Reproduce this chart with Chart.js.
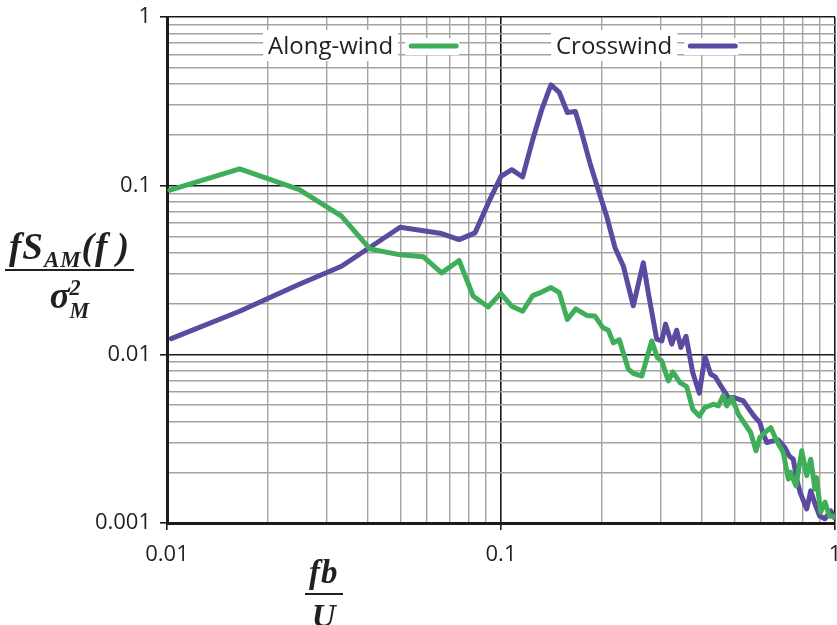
<!DOCTYPE html>
<html>
<head>
<meta charset="utf-8">
<script src="https://cdn.jsdelivr.net/npm/chart.js@4/dist/chart.umd.min.js"></script>
<style>
    html, body { margin: 0; padding: 0; background: #fff; }
    #wrap { position: relative; width: 837px; height: 625px; overflow: hidden; }
    canvas { position: absolute; left: 0; top: 0; }
    .frac {
        position: absolute;
        display: flex; flex-direction: column; align-items: center;
        font-family: "Liberation Serif", "DejaVu Serif", serif;
        font-weight: bold; font-style: italic; color: #231f20;
        line-height: 1;
    }
    .frac .num { padding: 0 4px 4px 4px; border-bottom: 2.5px solid #231f20; white-space: nowrap; letter-spacing: 1px; }
    .frac .den { padding-top: 5px; white-space: nowrap; }
    .frac sub { font-size: 0.62em; line-height: 0; }
    .frac .ss { display: inline-flex; flex-direction: column; vertical-align: middle; font-size: 0.6em; line-height: 1.05; }
</style>
</head>
<body>
<div id="wrap">
    <canvas id="spectrumChart" width="837" height="625"></canvas>
    <!-- axis titles as maths fractions -->
    <div class="frac" id="yTitle" style="left:5px; top:228px; font-size:37px;">
        <span class="num">fS<sub>AM</sub>(f&thinsp;)</span>
        <span class="den">σ<span class="ss"><span>2</span><span>M</span></span></span>
    </div>
    <div class="frac" id="xTitle" style="left:305px; top:556px; font-size:33px;">
        <span class="num">fb</span>
        <span class="den">U</span>
    </div>
</div>
<script>
// Along-wind spectrum
const alongX = [0.0102, 0.0165, 0.0249, 0.0333, 0.0405, 0.0499, 0.0585, 0.0664, 0.0749, 0.0826,
    0.0916, 0.0998, 0.1077, 0.1161, 0.1244, 0.1324, 0.1411, 0.1495, 0.158, 0.1674,
    0.1806, 0.191, 0.2017, 0.2096, 0.217, 0.226, 0.2406, 0.249, 0.264, 0.2827,
    0.294, 0.303, 0.317, 0.327, 0.3435, 0.3597, 0.375, 0.3925, 0.408, 0.4323,
    0.448, 0.463, 0.474, 0.491, 0.514, 0.538, 0.559, 0.580, 0.596, 0.6165,
    0.642, 0.669, 0.700, 0.725, 0.735, 0.764, 0.795, 0.823, 0.846, 0.871,
    0.880, 0.906, 0.933, 0.962, 0.997];
const alongY = [0.094, 0.1256, 0.0947, 0.0659, 0.0422, 0.0389, 0.0379, 0.0304, 0.0360, 0.0221,
    0.0191, 0.0230, 0.0193, 0.0180, 0.0223, 0.0234, 0.0249, 0.0232, 0.0161, 0.0186,
    0.0170, 0.0169, 0.0144, 0.0139, 0.0117, 0.0122, 0.00815, 0.00772, 0.00744, 0.0120,
    0.00956, 0.00913, 0.00695, 0.00786, 0.00680, 0.00644, 0.00473, 0.00431, 0.00484, 0.00506,
    0.00495, 0.00572, 0.00495, 0.00554, 0.00441, 0.00385, 0.00344, 0.00268, 0.00321, 0.00344,
    0.00368, 0.00307, 0.00262, 0.00182, 0.00200, 0.00166, 0.00268, 0.00191, 0.00239, 0.00159,
    0.00186, 0.00116, 0.00133, 0.00110, 0.00109];

// Crosswind spectrum
const crossX = [0.0103, 0.0165, 0.0249, 0.0333, 0.0499, 0.0664, 0.0749, 0.0836, 0.0916, 0.1000,
    0.1077, 0.1161, 0.1244, 0.1324, 0.1411, 0.1495, 0.158, 0.167, 0.1745, 0.1847,
    0.1955, 0.2072, 0.2195, 0.2325, 0.2378, 0.249, 0.2667, 0.276, 0.2925, 0.303,
    0.311, 0.3245, 0.3358, 0.3455, 0.358, 0.375, 0.3925, 0.408, 0.4245, 0.4375,
    0.4652, 0.4794, 0.4986, 0.5316, 0.553, 0.572, 0.596, 0.6075, 0.625, 0.653,
    0.677, 0.708, 0.729, 0.750, 0.768, 0.786, 0.823, 0.846, 0.871, 0.900,
    0.933, 0.971, 0.997];
const crossY = [0.0124, 0.0180, 0.0260, 0.0333, 0.0567, 0.0520, 0.0479, 0.0525, 0.0790, 0.1135,
    0.1244, 0.1126, 0.187, 0.282, 0.396, 0.357, 0.2715, 0.275, 0.205, 0.136,
    0.0947, 0.0659, 0.0428, 0.0333, 0.0278, 0.0194, 0.0349, 0.0232, 0.0123, 0.0120,
    0.0151, 0.0115, 0.0139, 0.0110, 0.0128, 0.0078, 0.00588, 0.0097, 0.00762, 0.00738,
    0.00607, 0.00554, 0.00554, 0.0053, 0.00473, 0.00431, 0.00394, 0.00344, 0.00300, 0.00307,
    0.00310, 0.00280, 0.00250, 0.00239, 0.00182, 0.00152, 0.00121, 0.00155, 0.00130, 0.00110,
    0.00106, 0.00118, 0.00107];

const seriesNames = ['Along-wind', 'Crosswind'];
const xTickLabels = ['0.01', '0.1', '1'];
const yTickLabels = ['0.001', '0.01', '0.1', '1'];

const GREEN = '#3fae58';
const PURPLE = '#5b4a9f';
const INK = '#231f20';

const toPoints = (xs, ys) => xs.map((x, i) => ({ x: x, y: ys[i] }));

const isPow10 = (v) => {
    const l = Math.log10(v);
    return Math.abs(l - Math.round(l)) < 1e-6;
};

// 1..9 x 10^n ticks for each decade between min and max
const decadeTicks = (scale) => {
    const ticks = [];
    const lo = Math.round(Math.log10(scale.min));
    const hi = Math.round(Math.log10(scale.max));
    for (let e = lo; e < hi; e++) {
        for (let m = 1; m <= 9; m++) {
            ticks.push({ value: parseFloat((m * Math.pow(10, e)).toPrecision(6)) });
        }
    }
    ticks.push({ value: scale.max });
    scale.ticks = ticks;
};

const labelFor = (labels) => (value) => {
    if (!isPow10(value)) return '';
    return labels.find((s) => Math.abs(parseFloat(s) - value) < value * 1e-6) || '';
};

// fixed axis box, no extra room for the end labels (the "1" is clipped like the original)
const fixBox = (size) => (s) => {
    if (s.isHorizontal()) s.height = size; else s.width = size;
    s.paddingLeft = 0; s.paddingRight = 0;
    s.paddingTop = 0; s.paddingBottom = 0;
};

const gridOpts = {
    color: (ctx) => (ctx.tick && isPow10(ctx.tick.value) ? '#1a1a1a' : '#a3a3a3'),
    lineWidth: (ctx) => (ctx.tick && isPow10(ctx.tick.value) ? 1.6 : 1.4),
    tickColor: (ctx) => (ctx.tick && isPow10(ctx.tick.value) ? '#1a1a1a' : 'rgba(0,0,0,0)'),
    tickLength: 7,
    tickWidth: 1.6,
};

// Legend drawn inside the plot, line sample after the text
const insideLegend = {
    id: 'insideLegend',
    afterDatasetsDraw(chart) {
        const { ctx, chartArea } = chart;
        const y = chartArea.top + 29;
        const items = [
            { text: seriesNames[0], color: GREEN, x: chartArea.left + 101 },
            { text: seriesNames[1], color: PURPLE, x: chartArea.left + 389 },
        ];
        ctx.save();
        ctx.font = '24px "Open Sans", "Noto Sans", sans-serif';
        ctx.textBaseline = 'middle';
        items.forEach((it) => {
            const w = ctx.measureText(it.text).width;
            ctx.fillStyle = '#fff';
            ctx.fillRect(it.x - 5, y - 16, w + 10, 31);
            ctx.fillRect(it.x + w + 12, y - 8, 54, 17);
            ctx.fillStyle = INK;
            ctx.fillText(it.text, it.x, y + 1);
            ctx.strokeStyle = it.color;
            ctx.lineWidth = 5;
            ctx.lineCap = 'round';
            ctx.beginPath();
            ctx.moveTo(it.x + w + 18, y);
            ctx.lineTo(it.x + w + 63, y);
            ctx.stroke();
        });
        ctx.restore();
    }
};

const ctx = document.getElementById('spectrumChart').getContext('2d');
new Chart(ctx, {
    type: 'line',
    data: {
        datasets: [
            { label: seriesNames[0], data: toPoints(alongX, alongY), borderColor: GREEN },
            { label: seriesNames[1], data: toPoints(crossX, crossY), borderColor: PURPLE },
        ].map((ds) => Object.assign(ds, {
            borderWidth: 5,
            pointRadius: 0,
            fill: false,
            tension: 0,
            borderJoinStyle: 'round',
            borderCapStyle: 'round',
        }))
    },
    options: {
        responsive: false,
        animation: false,
        layout: { padding: { left: 0, right: 2, top: 17, bottom: 0 } },
        plugins: { legend: { display: false }, tooltip: { enabled: false } },
        scales: {
            x: {
                type: 'logarithmic',
                min: 0.01,
                max: 1,
                afterFit: fixBox(102),
                afterBuildTicks: decadeTicks,
                ticks: {
                    autoSkip: false,
                    maxRotation: 0,
                    padding: 12,
                    color: INK,
                    font: { family: '"Open Sans", "Noto Sans", sans-serif', size: 22 },
                    callback: labelFor(xTickLabels),
                },
                grid: gridOpts,
                border: { color: '#1a1a1a', width: 3 },
            },
            y: {
                type: 'logarithmic',
                min: 0.001,
                max: 1,
                afterFit: fixBox(167),
                afterBuildTicks: decadeTicks,
                ticks: {
                    autoSkip: false,
                    padding: 9,
                    color: INK,
                    font: { family: '"Open Sans", "Noto Sans", sans-serif', size: 22 },
                    callback: labelFor(yTickLabels),
                },
                grid: gridOpts,
                border: { color: '#1a1a1a', width: 3 },
            }
        }
    },
    plugins: [insideLegend]
});
</script>
</body>
</html>
